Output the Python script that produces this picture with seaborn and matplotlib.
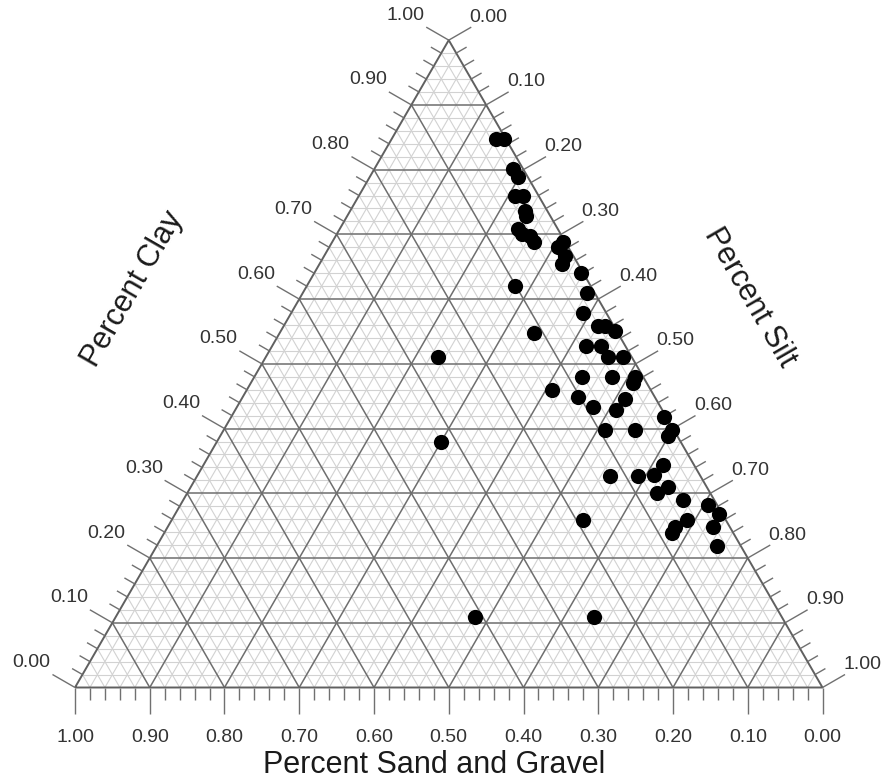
import numpy as np
import pandas as pd
import matplotlib
matplotlib.use("Agg")
import matplotlib.pyplot as plt
import seaborn as sns
from matplotlib.collections import LineCollection

# ---- data (fractions) ----
clay = [0.848, 0.848, 0.801, 0.788, 0.759, 0.759, 0.736, 0.729, 0.709, 0.700,
        0.697, 0.688, 0.688, 0.680, 0.666, 0.654, 0.641, 0.610, 0.579, 0.558,
        0.558, 0.550, 0.528, 0.528, 0.510, 0.510, 0.480, 0.470, 0.479, 0.479,
        0.459, 0.449, 0.434, 0.445, 0.428, 0.398, 0.398, 0.418, 0.398, 0.389,
        0.344, 0.329, 0.327, 0.326, 0.309, 0.301, 0.289, 0.282, 0.268, 0.248,
        0.219, 0.259, 0.248, 0.239, 0.259, 0.510, 0.380, 0.109, 0.109, 0.620,
        0.548]
silt = [0.139, 0.150, 0.186, 0.199, 0.209, 0.220, 0.234, 0.239, 0.238, 0.248,
        0.260, 0.270, 0.309, 0.306, 0.323, 0.325, 0.357, 0.380, 0.390, 0.421,
        0.430, 0.447, 0.420, 0.440, 0.458, 0.478, 0.509, 0.511, 0.439, 0.479,
        0.409, 0.448, 0.476, 0.513, 0.510, 0.510, 0.550, 0.579, 0.600, 0.599,
        0.615, 0.610, 0.590, 0.553, 0.639, 0.628, 0.669, 0.706, 0.728, 0.729,
        0.750, 0.689, 0.679, 0.679, 0.550, 0.230, 0.300, 0.481, 0.640, 0.279,
        0.340]
tick_values = [round(0.1 * i, 2) for i in range(11)]
clay_title = "Percent Clay"
silt_title = "Percent Silt"
sand_title = "Percent Sand and Gravel"

H = np.sqrt(3) / 2


def to_xy(c, s):
    c = np.asarray(c, float)
    s = np.asarray(s, float)
    return s + c / 2.0, c * H


df = pd.DataFrame({"clay": clay, "silt": silt})
df["sand"] = 1 - df["clay"] - df["silt"]
df["x"], df["y"] = to_xy(df["clay"], df["silt"])

sns.set_style("white")
plt.rcParams["font.family"] = ["Liberation Sans", "DejaVu Sans"]

W, Hpx = 883, 783
fig = plt.figure(figsize=(W / 100, Hpx / 100), dpi=100)
ax = fig.add_axes([0, 0, 1, 1])
scale = 747.5  # px per data unit
x0px, y0px = 75.0, 687.5

# ---- grid ----
minor, major = [], []
for k in range(1, 50):
    v = k * 0.02
    segs = [
        [(v / 2, v * H), (1 - v / 2, v * H)],                 # clay const
        [(v, 0), (v + (1 - v) / 2, (1 - v) * H)],            # silt const
        [(1 - v, 0), ((1 - v) / 2, (1 - v) * H)],            # sand const
    ]
    if k % 5 == 0:
        major += segs
    else:
        minor += segs
ax.add_collection(LineCollection(minor, colors="#d2d2d2", linewidths=0.8, zorder=1))
ax.add_collection(LineCollection(major, colors="#6e6e6e", linewidths=1.1, zorder=2))
ax.add_collection(LineCollection([[(0, 0), (1, 0), (0.5, H), (0, 0)]],
                                 colors="#606060", linewidths=1.4, zorder=3))

# ---- ticks ----
maj_len, min_len = 26 / scale, 12 / scale
lab_off = 50 / scale
lab_off_r = 46 / scale
dirs = {
    "bottom": (0.0, -1.0),
    "left": (-np.sqrt(3) / 2, 0.5),
    "right": (np.sqrt(3) / 2, 0.5),
}
ticks = []
for k in range(51):
    v = k * 0.02
    L = maj_len if k % 5 == 0 else min_len
    p = (1 - v, 0.0)
    ticks.append([p, (p[0] + dirs["bottom"][0] * L, p[1] + dirs["bottom"][1] * L)])
    p = (v / 2, v * H)
    ticks.append([p, (p[0] + dirs["left"][0] * L, p[1] + dirs["left"][1] * L)])
    p = (v + (1 - v) / 2, (1 - v) * H)
    ticks.append([p, (p[0] + dirs["right"][0] * L, p[1] + dirs["right"][1] * L)])
ax.add_collection(LineCollection(ticks, colors="#707070", linewidths=1.0, zorder=3))

fs = 14
tc = "#333333"
for v in tick_values:
    lab = f"{v:.2f}"
    p = (1 - v, 0.0)
    ax.text(p[0], p[1] - lab_off, lab, ha="center", va="center", fontsize=fs, color=tc)
    p = (v / 2, v * H)
    ax.text(p[0] + dirs["left"][0] * lab_off, p[1] + dirs["left"][1] * lab_off, lab,
            ha="center", va="center", fontsize=fs, color=tc)
    p = (v + (1 - v) / 2, (1 - v) * H)
    ax.text(p[0] + dirs["right"][0] * lab_off_r, p[1] + dirs["right"][1] * lab_off_r, lab,
            ha="center", va="center", fontsize=fs, color=tc)

# ---- titles ----
tfs = 22
d = 0.2
ax.text(0.25 - 0.866 * d, 0.433 + 0.5 * d, clay_title, rotation=60, rotation_mode="anchor",
        ha="center", va="center", fontsize=tfs, color="#1a1a1a")
d = 0.177
ax.text(0.75 + 0.866 * d, 0.433 + 0.5 * d, silt_title, rotation=-60, rotation_mode="anchor",
        ha="center", va="center", fontsize=tfs, color="#1a1a1a")
ax.text(0.48, -0.104, sand_title, ha="center", va="center", fontsize=tfs, color="#1a1a1a")

# ---- data points ----
sns.scatterplot(data=df, x="x", y="y", ax=ax, color="black", s=120, linewidth=0,
                zorder=5, legend=False)
ax.set_xlim(-x0px / scale, (W - x0px) / scale)
ax.set_ylim(-(Hpx - y0px) / scale, y0px / scale)
ax.axis("off")

fig.savefig("out.png", dpi=100, facecolor="white")
